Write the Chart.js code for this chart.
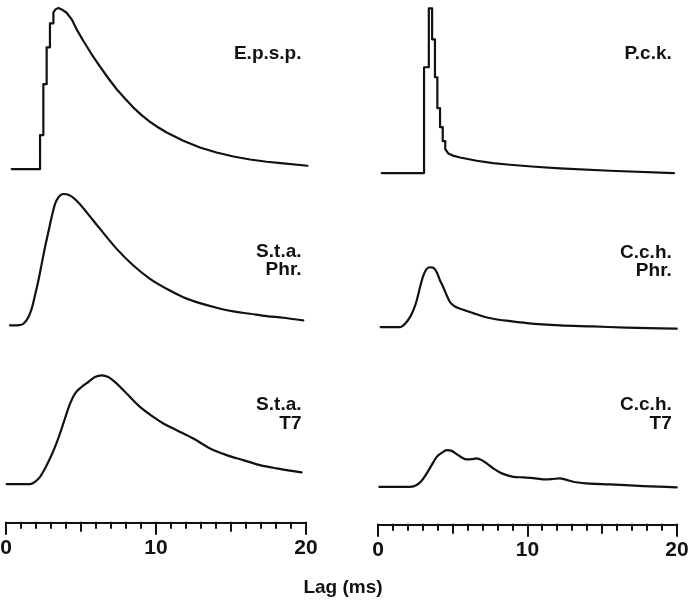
<!DOCTYPE html>
<html>
<head>
<meta charset="utf-8">
<script src="https://cdn.jsdelivr.net/npm/chart.js@4.4.1/dist/chart.umd.min.js"></script>
<style>
  html, body { margin: 0; padding: 0; background: #fff; }
  body { width: 690px; height: 601px; position: relative; overflow: hidden; }
  canvas { position: absolute; top: 0; }
  #cL { left: -24px; }
  #cR { left: 348px; }
  #xlab { position: absolute; left: 0; width: 686px; top: 576px; text-align: center;
          font: bold 19px "Liberation Sans", Arial, Helvetica, sans-serif; color: #111; line-height: 22px; }
</style>
</head>
<body>
<canvas id="cL" width="360" height="601"></canvas>
<canvas id="cR" width="359" height="601"></canvas>
<div id="xlab">Lag (ms)</div>
<script>
// ---- Data (lag in ms, amplitude in arbitrary units) ----
const epspLag = [0.38, 2.27, 2.27, 2.49, 2.49, 2.71, 2.71, 2.93, 2.93, 3.16, 3.16, 3.3, 3.5, 3.71, 4.04, 4.38, 4.71, 5.16, 5.71, 6.27, 6.82, 7.38, 7.93, 8.49, 9.04, 9.6, 10.16, 10.71, 11.82, 12.93, 14.04, 15.16, 16.27, 17.38, 18.49, 20.1];
const epspAmp = [0, 0, 34, 34, 85, 85, 122, 122, 146, 146, 157, 160, 161.5, 160, 156.6, 150, 140, 128.3, 115, 102.6, 91, 80, 70.6, 61.6, 54, 47.3, 41.6, 36.6, 28.3, 21.6, 16.6, 12.6, 9.6, 7.3, 5.6, 3.3];

const pckLag = [0.25, 3.08, 3.08, 3.4, 3.4, 3.62, 3.62, 3.81, 3.81, 3.97, 3.97, 4.15, 4.15, 4.33, 4.33, 4.5, 4.5, 4.7, 5.0, 5.49, 6.6, 7.7, 8.83, 10.5, 12.17, 15.5, 19.8];
const pckAmp = [0, 0, 106, 106, 165, 165, 134, 134, 96, 96, 65, 65, 46, 46, 32, 32, 24, 19.6, 17.5, 15.6, 12.3, 10, 8.3, 6.3, 4.6, 2.3, 0];

const staPhrLag = [0.27, 0.9, 1.16, 1.49, 1.71, 1.93, 2.16, 2.38, 2.6, 2.82, 3.04, 3.27, 3.49, 3.82, 4.16, 4.71, 5.38, 6.27, 7.38, 8.49, 9.6, 10.71, 11.82, 12.93, 14.04, 15.16, 16.27, 17.38, 18.49, 19.82];
const staPhrAmp = [0, 0.3, 1.7, 8.3, 16.7, 30, 45, 61.7, 78.3, 93.3, 108.3, 121.7, 128.3, 131.7, 131, 125, 113.3, 96.7, 76.7, 60, 46.7, 36.7, 28.3, 22.3, 17.7, 14, 11.7, 9.3, 7.7, 5];

const cchPhrLag = [0.18, 1.47, 1.81, 2.14, 2.36, 2.59, 2.81, 3.03, 3.26, 3.48, 3.7, 3.93, 4.15, 4.37, 4.6, 4.82, 5.15, 5.71, 6.37, 7.04, 7.71, 8.83, 9.95, 12.17, 14.4, 16.64, 19.98];
const cchPhrAmp = [0, 0, 3.4, 10, 16.7, 26.7, 40, 51.7, 58.4, 60, 59.4, 55, 46.7, 40, 31.7, 25, 20.7, 17.4, 14, 10.7, 8.4, 6, 4, 1.7, 0.7, -0.6, -1.6];

const staT7Lag = [0.04, 1.6, 1.93, 2.27, 2.6, 2.93, 3.27, 3.6, 3.93, 4.27, 4.6, 5.04, 5.49, 5.93, 6.38, 6.82, 7.38, 8.04, 8.93, 9.82, 10.49, 11.38, 12.49, 13.6, 14.71, 15.82, 16.93, 18.04, 19.71];
const staT7Amp = [0, 0, 2.3, 7.3, 15.7, 25.7, 37.3, 50.7, 65.7, 80.7, 90.7, 97.3, 102.3, 107.3, 109, 107.3, 100.7, 90.7, 77.3, 67.3, 60.7, 54, 45.7, 35.7, 29, 24, 19, 15.7, 11.7];

const cchT7Lag = [0.09, 2.14, 2.59, 2.92, 3.26, 3.59, 3.93, 4.26, 4.6, 4.93, 5.26, 5.6, 5.93, 6.27, 6.6, 6.94, 7.27, 7.71, 8.16, 8.61, 9.05, 9.72, 10.39, 11.06, 11.62, 12.17, 12.51, 13.06, 13.96, 15.52, 17.75, 19.98];
const cchT7Amp = [0, 0, 1.7, 6, 13.4, 21.7, 30, 34, 36.7, 36, 32.7, 29.4, 27.4, 27.7, 28.4, 26.7, 23.4, 18.4, 14.4, 11.7, 10, 9.4, 8.7, 7.4, 7.7, 8.4, 7.4, 5, 3.4, 2.4, 0.7, -0.6];

const xTicks = [0, 10, 20];
const leftLabels = [["E.p.s.p."], ["S.t.a.", "Phr."], ["S.t.a.", "T7"]];
const rightLabels = [["P.c.k."], ["C.c.h.", "Phr."], ["C.c.h.", "T7"]];

// ---- Layout / style ----
const INK = '#111';
const FONT = '"Liberation Sans", Arial, Helvetica, sans-serif';

function pts(lag, amp) { return lag.map((x, i) => ({ x: x, y: amp[i] })); }

const tickMarks = {
  id: 'tickMarks',
  afterDraw(chart) {
    const s = chart.scales.x, ctx = chart.ctx;
    ctx.save();
    ctx.strokeStyle = INK; ctx.lineWidth = 2;
    for (let v = 0; v <= 20; v++) {
      const len = v % 10 === 0 ? 12 : (v % 5 === 0 ? 9 : 6);
      const x = Math.round(s.getPixelForValue(v));
      ctx.beginPath(); ctx.moveTo(x, s.top - 1); ctx.lineTo(x, s.top + len); ctx.stroke();
    }
    ctx.restore();
  }
};

const traceLabels = {
  id: 'traceLabels',
  afterDatasetsDraw(chart, args, o) {
    const ctx = chart.ctx;
    ctx.save();
    ctx.fillStyle = INK;
    ctx.font = 'bold 19px ' + FONT;
    ctx.textAlign = 'right';
    ctx.textBaseline = 'alphabetic';
    o.labels.forEach((lines, i) => {
      const x = chart.scales.x.getPixelForValue(o.xAt);
      const y0 = chart.scales['y' + i].getPixelForValue(o.above[i]);
      lines.forEach((t, k) => ctx.fillText(t, x, y0 + k * o.gap));
    });
    ctx.restore();
  }
};

// series entries: [lags, amplitudes, smooth?]
function makeColumn(id, series, labels, base, above, padB, xAt) {
  const scales = {
    x: {
      type: 'linear', min: 0, max: 20,
      grid: { display: false, drawTicks: false },
      border: { display: true, color: INK, width: 2 },
      ticks: {
        stepSize: 10, autoSkip: false, maxRotation: 0, padding: 13,
        color: INK, font: { family: FONT, size: 21, weight: 'bold' },
        callback: v => xTicks.includes(v) ? String(v) : ''
      },
      afterBuildTicks: s => { s.ticks = xTicks.map(v => ({ value: v })); }
    }
  };
  series.forEach((_, i) => { scales['y' + i] = { type: 'linear', display: false, min: -100, max: 100 }; });
  const chart = new Chart(document.getElementById(id), {
    type: 'line',
    data: {
      datasets: series.map((s, i) => ({
        data: pts(s[0], s[1]), yAxisID: 'y' + i,
        borderColor: INK, borderWidth: 2.2, pointRadius: 0, fill: false,
        tension: s[2] ? 0.4 : 0,
        cubicInterpolationMode: s[2] ? 'monotone' : 'default',
        clip: false, borderJoinStyle: 'round', borderCapStyle: 'round'
      }))
    },
    options: {
      responsive: false, animation: false, parsing: true,
      layout: { padding: { left: 30, right: 30, top: 0, bottom: padB } },
      plugins: { legend: { display: false }, tooltip: { enabled: false },
        traceLabels: { labels: labels, above: above, gap: 18.5, xAt: xAt } },
      scales: scales
    },
    plugins: [tickMarks, traceLabels]
  });
  const a = chart.chartArea, H = a.bottom - a.top;
  base.forEach((b, i) => {
    const mn = -(a.bottom - b);
    chart.options.scales['y' + i].min = mn;
    chart.options.scales['y' + i].max = mn + H;
  });
  chart.update('none');
  return chart;
}

makeColumn('cL',
  [[epspLag, epspAmp, false], [staPhrLag, staPhrAmp, true], [staT7Lag, staT7Amp, true]],
  leftLabels, [168.3, 325, 484], [110, 69, 74], 27, 19.7);
makeColumn('cR',
  [[pckLag, pckAmp, false], [cchPhrLag, cchPhrAmp, true], [cchT7Lag, cchT7Amp, true]],
  rightLabels, [172.3, 326.7, 486.7], [114, 69.4, 76.7], 25, 19.65);
</script>
</body>
</html>
